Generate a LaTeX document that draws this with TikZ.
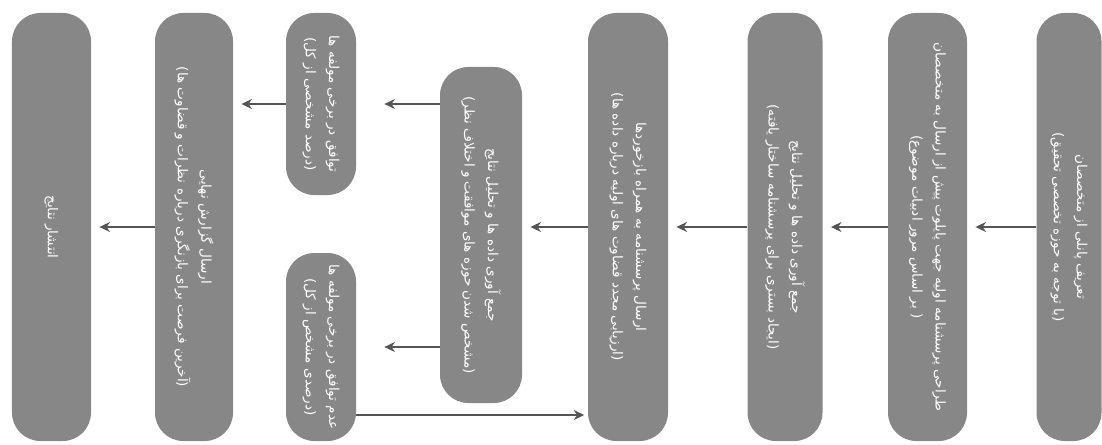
\documentclass[tikz,border=0pt]{standalone}
\usepackage{fontspec}
\usetikzlibrary{arrows.meta}
\newfontfamily\arabicfont[Script=Arabic]{DejaVu Sans}
\TeXXeTstate=1
\newcommand{\fatext}[1]{\beginR #1\endR}
\definecolor{boxgray}{RGB}{135,135,135}
\definecolor{arrowgray}{RGB}{85,85,85}
\tikzset{
	stage/.style={fill=boxgray, rounded corners=0.85cm, rotate=-90, text=white, align=center, inner sep=0pt, font=\arabicfont\fontsize{11.6}{20}\selectfont},
	flow/.style={draw=arrowgray, line width=2pt, -{Stealth[length=9pt,width=8.5pt]}, shorten >=7pt}
}
\begin{document}
\begin{tikzpicture}[x=0.03cm,y=-0.03cm]
	\useasboundingbox (0,0) rectangle (1102,444);
	% main row, right to left
	\node[stage, minimum width=12.84cm, minimum height=1.95cm] (panel) at (1069,227) {\fatext{تعریف پانلی از متخصصان}\\\fatext{(با توجه به حوزه تخصصی تحقیق)}};
	\node[stage, minimum width=12.84cm, minimum height=2.37cm] (design) at (927.5,227) {\fatext{طراحی پرسشنامه اولیه جهت پایلوت پیش از ارسال به متخصصان}\\\fatext{( بر اساس مرور ادبیات موضوع)}};
	\node[stage, minimum width=12.84cm, minimum height=2.25cm] (collect) at (785,227) {\fatext{جمع آوری داده ها و تحلیل نتایج}\\\fatext{(ایجاد بستری برای پرسشنامه ساختار یافته)}};
	\node[stage, minimum width=12.84cm, minimum height=2.4cm] (resend) at (628,227) {\fatext{ارسال پرسشنامه به همراه بازخوردها}\\\fatext{(ارزیابی مجدد قضاوت های اولیه درباره داده ها)}};
	\node[stage, minimum width=10.08cm, minimum height=2.46cm] (analyse) at (481,235) {\fatext{جمع آوری داده ها و تحلیل نتایج}\\\fatext{(مشخص شدن حوزه های موافقت و اختلاف نظر)}};
	% branches
	\node[stage, minimum width=5.46cm, minimum height=2.1cm] (agree) at (321,104) {\fatext{توافق در برخی مولفه ها}\\\fatext{(درصد مشخصی از کل)}};
	\node[stage, minimum width=5.64cm, minimum height=2.1cm] (disagree) at (321,347) {\fatext{عدم توافق در برخی مولفه ها}\\\fatext{(درصدی مشخص از کل)}};
	\node[stage, minimum width=12.84cm, minimum height=2.34cm] (report) at (194,227) {\fatext{ارسال گزارش نهایی}\\\fatext{(آخرین فرصت برای بازنگری درباره نظرات و قضاوت ها)}};
	\node[stage, minimum width=12.84cm, minimum height=2.37cm] (publish) at (51.5,227) {\fatext{انتشار نتایج}};
	\coordinate (back) at (0,415);
	% arrows
	\draw[flow] (panel.south) -- (design.north);
	\draw[flow] (design.south) -- (collect.north);
	\draw[flow] (collect.south) -- (resend.north);
	\draw[flow] (resend.south) -- (resend.south -| analyse.north);
	\draw[flow, shorten >=24pt] (analyse.south |- agree) -- (agree.north);
	\draw[flow, shorten >=24pt] (analyse.south |- disagree) -- (disagree.north);
	\draw[flow, shorten >=3pt] (disagree.north |- back) -- (resend.south |- back);
	\draw[flow] (agree.south) -- (agree.south -| report.north);
	\draw[flow] (report.south) -- (publish.north);
\end{tikzpicture}
\end{document}
